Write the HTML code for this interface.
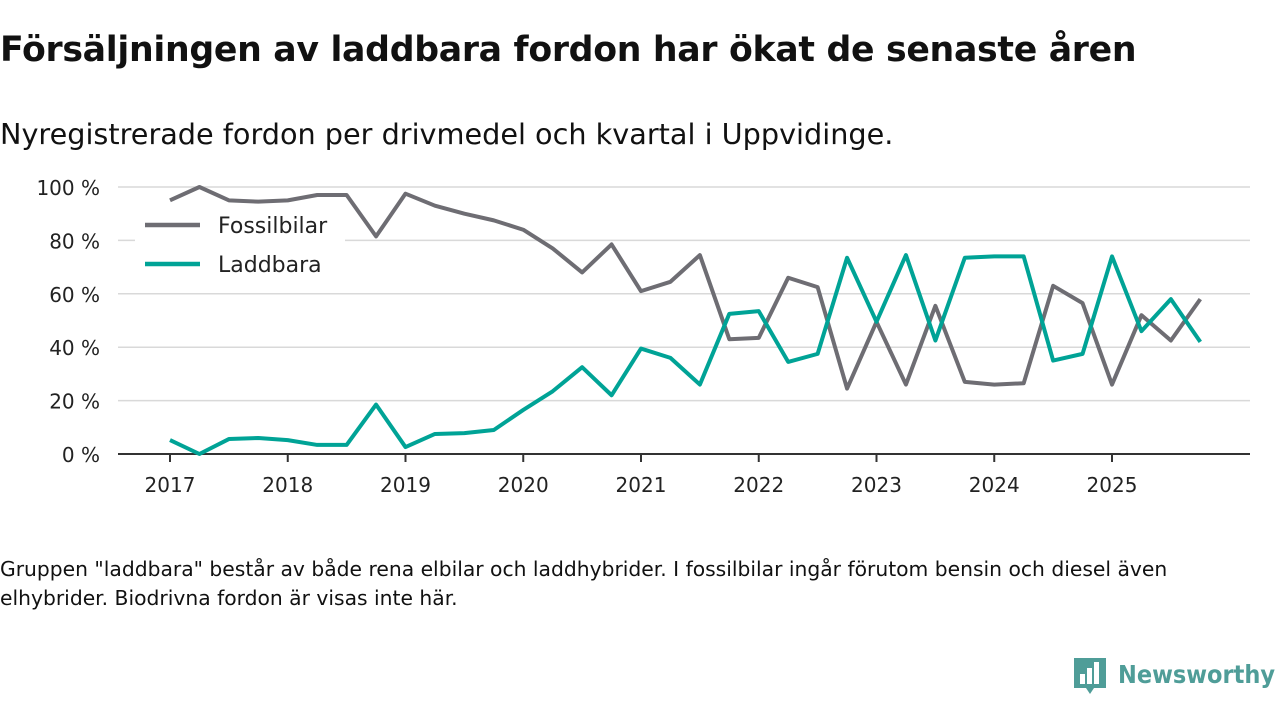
<!DOCTYPE html>
<html><head><meta charset="utf-8"><style>
body{margin:0;width:1280px;height:720px;background:#fff;font-family:"DejaVu Sans","Liberation Sans",sans-serif;overflow:hidden;position:relative;color:#111}
h1{position:absolute;left:0;top:30px;margin:0;font-size:34.7px;font-weight:bold;letter-spacing:-0.3px}
.sub{position:absolute;left:0;top:117px;font-size:28.7px}
.note{position:absolute;left:0;top:555px;font-size:20.3px;line-height:29px;width:1240px}
svg{position:absolute;left:0;top:0}
</style></head><body>
<h1>Försäljningen av laddbara fordon har ökat de senaste åren</h1>
<div class="sub">Nyregistrerade fordon per drivmedel och kvartal i Uppvidinge.</div>
<svg id="c" width="1280" height="720"></svg>
<div class="note">Gruppen "laddbara" består av både rena elbilar och laddhybrider. I fossilbilar ingår förutom bensin och diesel även elhybrider. Biodrivna fordon är visas inte här.</div>
<script>
const years=[2017,2018,2019,2020,2021,2022,2023,2024,2025];
const yTicks=[0,20,40,60,80,100];
const fossil=[95,100,95,94.5,95,97,97,81.5,97.5,93,90,87.5,84,77,68,78.5,61,64.5,74.5,43,43.5,66,62.5,24.5,49.5,26,55.5,27,26,26.5,63,56.5,26,52,42.5,58];
const laddbara=[5.2,0,5.6,6,5.2,3.4,3.4,18.5,2.6,7.5,7.8,9,16.5,23.5,32.5,22,39.5,36,26,52.5,53.5,34.5,37.5,73.5,49.5,74.5,42.5,73.5,74,74,35,37.5,74,46,58,42];
const NS="http://www.w3.org/2000/svg",s=document.getElementById('c');
const X=t=>170+(t-2017)*117.75, Y=v=>454-v*2.67;
function el(n,a,p){const e=document.createElementNS(NS,n);for(const k in a)e.setAttribute(k,a[k]);(p||s).appendChild(e);return e;}
yTicks.forEach(v=>{
 if(v>0){const g=el('line',{x1:118,x2:1250,y1:Y(v),y2:Y(v),stroke:'#d9d9d9','stroke-width':1.5});
 
 }
 const t=el('text',{x:100,y:Y(v)+8,'text-anchor':'end','font-size':20,fill:'#222'});t.textContent=v+' %';
 
 
});
const ax=el('line',{x1:118,x2:1250,y1:454,y2:454,stroke:'#333','stroke-width':2});


years.forEach(y=>{
 el('line',{x1:X(y),x2:X(y),y1:454,y2:462,stroke:'#333','stroke-width':2});
 const t=el('text',{x:X(y),y:492,'text-anchor':'middle','font-size':20,fill:'#222'});t.textContent=y;
 
 
});
function line(d,c,n){const p=el('polyline',{points:d.map((v,i)=>X(2017+i/4)+','+Y(v)).join(' '),fill:'none',stroke:c,'stroke-width':4,'stroke-linejoin':'round'});
 
 }
line(fossil,'#6e6d73','fossilbilar-line');
line(laddbara,'#00a396','laddbara-line');
el('rect',{x:135,y:205,width:210,height:85,fill:'#fff'});
[['Fossilbilar','#6e6d73',225],['Laddbara','#00a396',264]].forEach(([n,c,y])=>{
 const g=el('g',{});
 
 
 el('line',{x1:145,x2:200,y1:y,y2:y,stroke:c,'stroke-width':4.5},g);
 const t=el('text',{x:218,y:y+8,'font-size':22,fill:'#222'},g);t.textContent=n;
});
const lg=el('g',{});


el('path',{d:'M1074 658 h32 v30 h-12 l-4 6 l-4 -6 h-12 z',fill:'#4f9d98'},lg);
[[1080,674,5,10],[1087,668,5,16],[1094,662,5,22]].forEach(([x,y,w,h])=>el('rect',{x,y,width:w,height:h,fill:'#fff'},lg));
const lt=el('text',{x:1118,y:683,'font-size':25,'font-weight':'bold',fill:'#4f9d98',textLength:157,lengthAdjust:'spacingAndGlyphs'},lg);lt.textContent='Newsworthy';
</script>
</body></html>
